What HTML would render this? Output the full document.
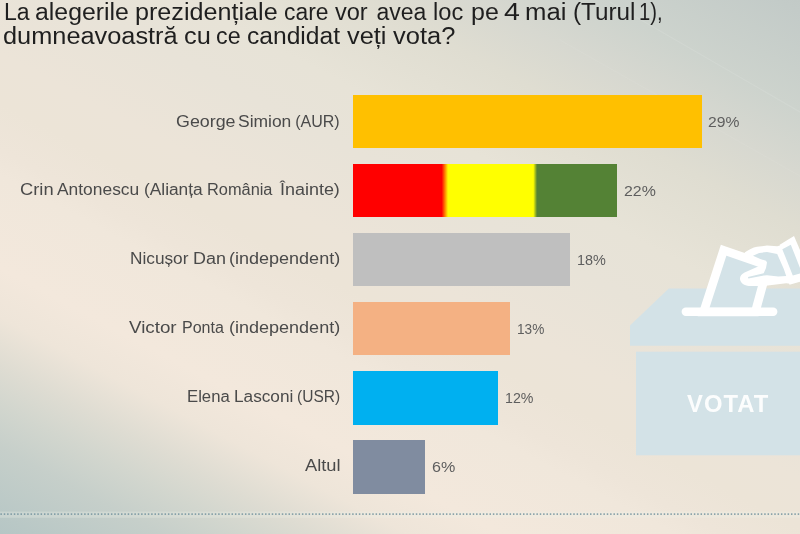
<!DOCTYPE html>
<html lang="ro">
<head>
<meta charset="utf-8">
<title>Sondaj</title>
<style>
  html, body { margin: 0; padding: 0; }
  body {
    width: 800px; height: 534px; overflow: hidden; position: relative;
    font-family: "Liberation Sans", sans-serif;
    background: #efe8dc;
  }
  #bg {
    position: absolute; left: 0; top: 0; width: 800px; height: 534px;
    background:
      linear-gradient(28deg,
        rgb(182,198,197) 0%,
        rgb(185,200,198) 2%,
        rgb(198,207,202) 9%,
        rgb(210,214,206) 13.5%,
        rgb(222,220,210) 17.5%,
        rgb(238,229,217) 22.6%,
        rgb(243,232,220) 27.7%,
        rgb(240,231,219) 37.4%,
        rgb(238,229,217) 40%,
        rgb(236,228,215) 45%,
        rgb(236,228,216) 50%,
        rgb(232,227,216) 59.4%,
        rgb(231,227,215) 66%,
        rgb(223,221,209) 76%,
        rgb(215,216,208) 82%,
        rgb(205,211,205) 88.5%,
        rgb(195,203,200) 98.7%,
        rgb(194,202,199) 100%);
  }
  .t {
    position: absolute; left: 5px; white-space: nowrap;
    font-size: 23px; line-height: 24px; color: #1f1f1f;
    transform-origin: 0 0;
  }
  .lab {
    position: absolute; white-space: nowrap;
    font-size: 16px; line-height: 20px; color: #4a4a4a;
    transform-origin: 0 0;
  }
  .val {
    position: absolute; white-space: nowrap;
    font-size: 15.5px; line-height: 20px; color: #5e5e5e;
    transform-origin: 0 0;
  }
  #title, #labels, #values { position:absolute; left:0; top:0; width:800px; height:534px; will-change: transform; }
  .bar { position: absolute; left: 353px; height: 53.4px; }
#dots { position:absolute; left:0; top:510px; width:800px; height:10px; }
  #votat { position:absolute; left:687.3px; top:390.9px; font-weight:bold; font-size:23px; line-height:26px; color:#fff; letter-spacing:1px; transform:scaleX(1.035); transform-origin:0 0; white-space:nowrap; opacity:.92 }
  svg { position: absolute; left: 0; top: 0; }
  svg#dots { top: 510px; }
</style>
</head>
<body>
<div id="bg"></div>

<svg width="800" height="534" viewBox="0 0 800 534">
  <!-- faint light streaks in backdrop -->
  <g stroke="#fff" fill="none" stroke-linecap="round">
    <line x1="610" y1="2" x2="800" y2="112" stroke-width="1.2" opacity=".10"/>
    <line x1="560" y1="40" x2="800" y2="176" stroke-width="1" opacity=".05"/>
  </g>
  <!-- ballot box -->
  <g fill="#d3e2e7">
    <polygon points="668.8,288.4 800,288.4 800,345.8 630,345.8 630,325.6"/>
    <rect x="636" y="351.7" width="164" height="103.6"/>
  </g>
  <!-- ballot paper -->
  <polygon points="723.6,250.3 768,265.5 755.3,312 703.6,312" fill="#d4e3e8" stroke="#fff" stroke-width="8.6" stroke-linejoin="miter"/>
  <!-- hand (white outline blob) -->
  <path fill="#fff" d="M744.6,252.6 C748,250 753,247.2 757,246.7 L767,245.6 L777.2,246.2 L781.7,245 L792,284 L786.2,283.2 L763.7,286 L749,286 C744.5,285.8 740.4,283 740,279.3 C739.7,276.3 741.6,273.8 744.6,272.4 L759.8,265.8 L749,261.3 Z"/>
  <!-- hand blue fill -->
  <path fill="#d4e3e8" d="M753,255.7 L759.2,252.9 L767,252.1 L777.2,254 L779.4,259.1 L783.9,269.2 L786.2,276 L778.3,276.5 L767,275.2 L764,275.4 L748.3,278.6 L748,276.9 L763.7,273.2 L766,268 L767,262.5 L766,260.8 L760.3,259.1 Z"/>
  <!-- cuff -->
  <polygon fill="#fff" points="779.7,244.7 794,236 812,278 789.5,284.8"/>
  <polygon fill="#d4e3e8" points="782.3,249.2 790.8,244.7 802,273 792.8,275.5"/>
  <!-- slot -->
  <line x1="685.8" y1="311.7" x2="773.2" y2="311.7" stroke="#fff" stroke-width="8.4" stroke-linecap="round"/>
</svg>

<div id="title">
<span class="t" style="left:4.00px;top:0px;transform:scaleX(1.0000)">La</span>
<span class="t" style="left:34.67px;top:0px;transform:scaleX(1.0794)">alegerile</span>
<span class="t" style="left:134.61px;top:0px;transform:scaleX(1.0938)">prezidențiale</span>
<span class="t" style="left:284.01px;top:0px;transform:scaleX(0.9942)">care</span>
<span class="t" style="left:335.24px;top:0px;transform:scaleX(1.0240)">vor</span>
<span class="t" style="left:376.50px;top:0px;transform:scaleX(1.0000)">avea</span>
<span class="t" style="left:433.46px;top:0px;transform:scaleX(1.0275)">loc</span>
<span class="t" style="left:470.87px;top:0px;transform:scaleX(1.0870)">pe</span>
<span class="t" style="left:504.38px;top:0px;transform:scaleX(1.2391)">4</span>
<span class="t" style="left:525.32px;top:0px;transform:scaleX(1.1176)">mai</span>
<span class="t" style="left:573.42px;top:0px;transform:scaleX(1.0542)">(Turul</span>
<span class="t" style="left:639.26px;top:0px;transform:scaleX(0.8783)">1),</span>
<span class="t" style="left:3.40px;top:24px;transform:scaleX(1.1016)">dumneavoastră</span>
<span class="t" style="left:184.40px;top:24px;transform:scaleX(1.1034)">cu</span>
<span class="t" style="left:216.49px;top:24px;transform:scaleX(1.0112)">ce</span>
<span class="t" style="left:247.18px;top:24px;transform:scaleX(1.0700)">candidat</span>
<span class="t" style="left:347.22px;top:24px;transform:scaleX(1.1029)">veți</span>
<span class="t" style="left:392.97px;top:24px;transform:scaleX(1.1086)">vota?</span>
</div>

<div class="bar" style="top:94.9px;width:349.2px;background:#ffc000"></div>
<div class="bar" style="top:163.9px;width:264px;background:linear-gradient(90deg,#ff0000 0,#ff0000 33.6%,#ffff00 36%,#ffff00 68.3%,#548235 69.7%,#548235 100%)"></div>
<div class="bar" style="top:233px;width:217px;background:#bfbfbf"></div>
<div class="bar" style="top:302.1px;width:157px;background:#f4b183"></div>
<div class="bar" style="top:371.2px;width:145px;background:#00b0f0"></div>
<div class="bar" style="top:440.3px;width:72px;background:#808ca0"></div>

<div id="labels">
<span class="lab" style="left:176.16px;top:111.6px;transform:scaleX(1.1154)">George</span>
<span class="lab" style="left:237.93px;top:111.6px;transform:scaleX(1.0904)">Simion</span>
<span class="lab" style="left:295.25px;top:111.6px;transform:scaleX(1.0000)">(AUR)</span>
<span class="lab" style="left:20.39px;top:180.45px;transform:scaleX(1.1455)">Crin</span>
<span class="lab" style="left:57.25px;top:180.45px;transform:scaleX(1.0872)">Antonescu</span>
<span class="lab" style="left:143.92px;top:180.45px;transform:scaleX(1.0817)">(Alianța</span>
<span class="lab" style="left:206.97px;top:180.45px;transform:scaleX(1.0223)">România</span>
<span class="lab" style="left:279.88px;top:180.45px;transform:scaleX(1.1213)">Înainte)</span>
<span class="lab" style="left:129.55px;top:249.3px;transform:scaleX(1.0768)">Nicușor</span>
<span class="lab" style="left:192.80px;top:249.3px;transform:scaleX(1.1222)">Dan</span>
<span class="lab" style="left:228.87px;top:249.3px;transform:scaleX(1.1256)">(independent)</span>
<span class="lab" style="left:129.20px;top:318.15px;transform:scaleX(1.1727)">Victor</span>
<span class="lab" style="left:181.65px;top:318.15px;transform:scaleX(1.0025)">Ponta</span>
<span class="lab" style="left:228.87px;top:318.15px;transform:scaleX(1.1256)">(independent)</span>
<span class="lab" style="left:186.69px;top:387px;transform:scaleX(1.0440)">Elena</span>
<span class="lab" style="left:233.66px;top:387px;transform:scaleX(1.0758)">Lasconi</span>
<span class="lab" style="left:296.53px;top:387px;transform:scaleX(0.9706)">(USR)</span>
<span class="lab" style="left:304.50px;top:455.85px;transform:scaleX(1.1417)">Altul</span>
</div>

<div id="values">
<span class="val" style="left:708.34px;top:112.1px;transform:scaleX(1.0118)">29%</span>
<span class="val" style="left:624.33px;top:181.3px;transform:scaleX(1.0252)">22%</span>
<span class="val" style="left:576.64px;top:250.3px;transform:scaleX(0.9299)">18%</span>
<span class="val" style="left:517.00px;top:319.1px;transform:scaleX(0.8786)">13%</span>
<span class="val" style="left:504.85px;top:388.3px;transform:scaleX(0.9162)">12%</span>
<span class="val" style="left:432.02px;top:456.9px;transform:scaleX(1.0381)">6%</span>
</div>

<div id="votat">VOTAT</div>
<svg id="dots" width="800" height="10" viewBox="0 0 800 10">
  <rect x="0" y="1.6" width="800" height="6.2" fill="#eef2e8" opacity=".3"/>
  <line x1="0.4" y1="4.1" x2="800" y2="4.1" stroke="#6f909c" stroke-width="1.8" stroke-dasharray="1.5 1.85" opacity=".78"/>
</svg>
</body>
</html>
